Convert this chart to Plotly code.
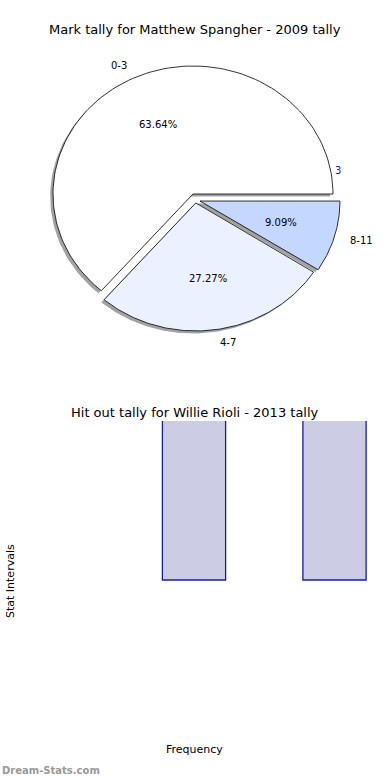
import numpy as np
import plotly.graph_objects as go

# ---- data ----
pie_title = "Mark tally for Matthew Spangher - 2009 tally"
pie_labels = ["0-3", "4-7", "8-11"]
pie_values = [7, 3, 1]

bar_title = "Hit out tally for Willie Rioli - 2013 tally"
bar_positions = [0, 1]
bar_values = [5, 5]

# ---- style ----
pie_colors = ["#ffffff", "#ebf1ff", "#c4d7ff"]
pie_offsets = [(0.0, 0.0), (0.02, -0.07), (0.05, -0.055)]
shadow_offset = (-0.02, -0.02)
FONT = "DejaVu Sans"

W, H = 390, 780

def py(px):
    return 1 - px / H

fig = go.Figure()

total = float(sum(pie_values))
start = 0.0
wedges = []
for lab, val, col, off in zip(pie_labels, pie_values, pie_colors, pie_offsets):
    span = 360.0 * val / total
    a0, a1 = start, start + span
    start = a1
    th = np.radians(np.linspace(a0, a1, 120))
    xs = np.concatenate([[0], np.cos(th), [0]]) + off[0]
    ys = np.concatenate([[0], np.sin(th), [0]]) + off[1]
    wedges.append((lab, val, col, off, a0, a1, xs, ys))

# shadows first
for lab, val, col, off, a0, a1, xs, ys in wedges:
    fig.add_trace(go.Scatter(
        x=xs + shadow_offset[0], y=ys + shadow_offset[1], mode="lines",
        fill="toself", fillcolor="rgba(70,70,70,0.5)", line=dict(width=0),
        hoverinfo="skip", showlegend=False, xaxis="x", yaxis="y"))
for lab, val, col, off, a0, a1, xs, ys in wedges:
    fig.add_trace(go.Scatter(
        x=xs, y=ys, mode="lines", fill="toself", fillcolor=col,
        line=dict(color="black", width=0.8), hoverinfo="skip",
        showlegend=False, xaxis="x", yaxis="y"))

annotations = []
for lab, val, col, off, a0, a1, xs, ys in wedges:
    mid = np.radians((a0 + a1) / 2)
    lx = 1.1 * np.cos(mid) + off[0]
    ly = 1.1 * np.sin(mid) + off[1]
    annotations.append(dict(
        x=lx, y=ly, xref="x", yref="y", text=lab, showarrow=False,
        xanchor="left" if np.cos(mid) > 0 else "right", yanchor="middle",
        font=dict(family=FONT, size=10, color="black")))
    pxv = 0.6 * np.cos(mid) + off[0]
    pyv = 0.6 * np.sin(mid) + off[1]
    annotations.append(dict(
        x=pxv, y=pyv, xref="x", yref="y",
        text="%.2f%%" % (100.0 * val / total), showarrow=False,
        xanchor="center", yanchor="middle",
        font=dict(family=FONT, size=10, color="black")))

# stray label near the pie edge
annotations.append(dict(x=1.0, y=0.18, xref="x", yref="y", text="3",
                        showarrow=False, xanchor="left", yanchor="middle",
                        font=dict(family=FONT, size=10, color="#1a1a8c")))

# bars
fig.add_trace(go.Bar(
    x=bar_positions, y=bar_values, base=0, width=0.45,
    marker=dict(color="rgb(204,204,228)", line=dict(color="#1c1c9c", width=1.3)),
    hoverinfo="skip", showlegend=False, xaxis="x2", yaxis="y2"))

# titles and axis labels
annotations += [
    dict(x=195 / W, y=py(30), xref="paper", yref="paper", text=pie_title,
         showarrow=False, xanchor="center", yanchor="middle",
         font=dict(family=FONT, size=13, color="black")),
    dict(x=195 / W, y=py(412), xref="paper", yref="paper", text=bar_title,
         showarrow=False, xanchor="center", yanchor="middle",
         font=dict(family=FONT, size=13, color="black")),
    dict(x=10 / W, y=py(581), xref="paper", yref="paper", text="Stat Intervals",
         textangle=-90, showarrow=False, xanchor="center", yanchor="middle",
         font=dict(family=FONT, size=11, color="black")),
    dict(x=194 / W, y=py(749), xref="paper", yref="paper", text="Frequency",
         showarrow=False, xanchor="center", yanchor="middle",
         font=dict(family=FONT, size=11, color="black")),
    dict(x=0, y=py(770), xref="paper", yref="paper", text="<b>Dream-Stats.com</b>",
         showarrow=False, xanchor="left", yanchor="middle",
         font=dict(family=FONT, size=10, color="#999999")),
]

hidden = dict(visible=False, showgrid=False, zeroline=False, fixedrange=True)
fig.update_layout(
    width=W, height=H, margin=dict(l=0, r=0, t=0, b=0),
    paper_bgcolor="white", plot_bgcolor="white",
    xaxis=dict(domain=[0, 1], range=[-193 / 140, (W - 193) / 140], **hidden),
    yaxis=dict(domain=[py(360), py(40)], range=[-(360 - 194) / 128, (194 - 40) / 128], **hidden),
    xaxis2=dict(domain=[0, 1], range=[-194 / 140.5, (W - 194) / 140.5], anchor="y2", **hidden),
    yaxis2=dict(domain=[py(739), py(421)], range=[-1, 1], anchor="x2", **hidden),
    annotations=annotations,
    showlegend=False,
)

fig.write_html("out.html", config={"staticPlot": True},
               post_script="document.body.style.margin='0px';document.body.style.overflow='hidden';")
